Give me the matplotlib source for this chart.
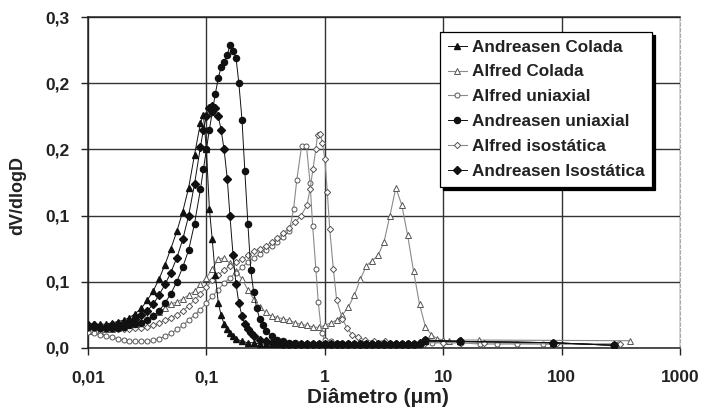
import matplotlib
matplotlib.use("Agg")
import matplotlib.pyplot as plt
from matplotlib.ticker import FixedLocator, FixedFormatter, NullLocator

plt.rcParams['font.family'] = ['Liberation Sans', 'DejaVu Sans']

# ---------------- data ----------------
series_names = ["Andreasen Colada", "Alfred Colada", "Alfred uniaxial",
                "Andreasen uniaxial", "Alfred isostática", "Andreasen Isostática"]

tail_x = [0.501, 0.562, 0.631, 0.708, 0.794, 0.891, 1.00, 1.12, 1.26, 1.41, 1.58, 1.78,
          2.00, 2.24, 2.51, 2.82, 3.16, 3.55, 3.98, 4.47, 5.01, 5.62, 6.31, 7.08, 13.8, 85.0, 275.0]

and_colada_x = [0.0100, 0.0112, 0.0126, 0.0141, 0.0158, 0.0178, 0.0200, 0.0224, 0.0251, 0.0282,
                0.0316, 0.0355, 0.0398, 0.0447, 0.0501, 0.0562, 0.0631, 0.0708, 0.0794, 0.0891,
                0.0944, 0.100, 0.106, 0.112, 0.119, 0.126, 0.133, 0.141, 0.150, 0.158, 0.168,
                0.178, 0.200, 0.224, 0.251, 0.282, 0.316, 0.355, 0.398, 0.447] + tail_x
and_colada_y = [0.018, 0.018, 0.018, 0.018, 0.019, 0.020, 0.021, 0.023, 0.026, 0.030,
                0.036, 0.043, 0.052, 0.063, 0.075, 0.088, 0.103, 0.121, 0.146, 0.170,
                0.176, 0.150, 0.105, 0.082, 0.055, 0.034, 0.025, 0.018, 0.014, 0.011, 0.009,
                0.007, 0.005, 0.004, 0.004, 0.003, 0.003, 0.003, 0.003, 0.003,
                0.003, 0.003, 0.003, 0.003, 0.003, 0.003, 0.003, 0.003, 0.003, 0.003, 0.003, 0.003,
                0.003, 0.003, 0.003, 0.003, 0.003, 0.003, 0.003, 0.003, 0.003, 0.003, 0.004, 0.005,
                0.005, 0.004, 0.002]

and_uni_x = [0.0100, 0.0112, 0.0126, 0.0141, 0.0158, 0.0178, 0.0200, 0.0224, 0.0251, 0.0282,
             0.0316, 0.0355, 0.0398, 0.0447, 0.0501, 0.0562, 0.0631, 0.0708, 0.0794, 0.0891,
             0.0944, 0.100, 0.106, 0.112, 0.119, 0.126, 0.133, 0.141, 0.150, 0.158, 0.168,
             0.178, 0.188, 0.200, 0.211, 0.224, 0.237, 0.251, 0.266, 0.282, 0.299, 0.316,
             0.355, 0.398, 0.447] + tail_x
and_uni_y = [0.016, 0.016, 0.015, 0.015, 0.015, 0.015, 0.016, 0.017, 0.018, 0.019,
             0.021, 0.024, 0.028, 0.034, 0.041, 0.050, 0.061, 0.074, 0.094, 0.120,
             0.135, 0.150, 0.165, 0.178, 0.192, 0.204, 0.212, 0.216, 0.221, 0.229, 0.224,
             0.219, 0.200, 0.172, 0.134, 0.094, 0.059, 0.042, 0.030, 0.022, 0.017, 0.013,
             0.009, 0.006, 0.005,
             0.004, 0.004, 0.003, 0.003, 0.003, 0.003, 0.003, 0.003, 0.003, 0.003, 0.003, 0.003,
             0.003, 0.003, 0.003, 0.003, 0.003, 0.003, 0.003, 0.003, 0.003, 0.003, 0.003, 0.006,
             0.005, 0.004, 0.002]

and_iso_x = [0.0100, 0.0112, 0.0126, 0.0141, 0.0158, 0.0178, 0.0200, 0.0224, 0.0251, 0.0282,
             0.0316, 0.0355, 0.0398, 0.0447, 0.0501, 0.0562, 0.0631, 0.0708, 0.0794, 0.0891,
             0.0944, 0.100, 0.106, 0.112, 0.119, 0.126, 0.133, 0.141, 0.150, 0.158, 0.168,
             0.178, 0.188, 0.200, 0.211, 0.224, 0.237, 0.251, 0.282, 0.316, 0.355, 0.398,
             0.447] + tail_x
and_iso_y = [0.017, 0.017, 0.016, 0.016, 0.017, 0.018, 0.019, 0.020, 0.022, 0.025,
             0.028, 0.033, 0.040, 0.048, 0.057, 0.068, 0.082, 0.100, 0.124, 0.152,
             0.165, 0.175, 0.181, 0.183, 0.181, 0.175, 0.165, 0.150, 0.128, 0.100, 0.070,
             0.048, 0.034, 0.024, 0.018, 0.014, 0.011, 0.009, 0.006, 0.005, 0.004, 0.004,
             0.003,
             0.003, 0.003, 0.003, 0.003, 0.003, 0.003, 0.003, 0.003, 0.003, 0.003, 0.003, 0.003,
             0.003, 0.003, 0.003, 0.003, 0.003, 0.003, 0.003, 0.003, 0.003, 0.003, 0.004, 0.006,
             0.005, 0.004, 0.002]

alf_colada_x = [0.0100, 0.0112, 0.0126, 0.0141, 0.0158, 0.0178, 0.0200, 0.0224, 0.0251, 0.0282,
                0.0316, 0.0355, 0.0398, 0.0447, 0.0501, 0.0562, 0.0631, 0.0708, 0.0794, 0.0891,
                0.100, 0.112, 0.126, 0.141, 0.158, 0.178, 0.200, 0.224, 0.251, 0.282, 0.316,
                0.355, 0.398, 0.447, 0.501, 0.562, 0.631, 0.708, 0.794, 0.891, 1.00, 1.12, 1.26,
                1.41, 1.58, 1.78, 2.00, 2.24, 2.51, 2.82, 3.16, 3.55, 3.98, 4.47, 5.01, 5.62,
                6.31, 7.08, 7.94, 8.91, 10.0, 11.2, 14.0, 20.0, 380.0]
alf_colada_y = [0.013, 0.013, 0.013, 0.014, 0.014, 0.015, 0.016, 0.017, 0.018, 0.020,
                0.022, 0.025, 0.027, 0.030, 0.033, 0.035, 0.037, 0.040, 0.043, 0.048,
                0.053, 0.060, 0.067, 0.068, 0.064, 0.058, 0.052, 0.044, 0.037, 0.031, 0.027,
                0.024, 0.023, 0.022, 0.021, 0.019, 0.018, 0.017, 0.016, 0.0155, 0.017, 0.019, 0.021,
                0.025, 0.031, 0.040, 0.052, 0.062, 0.066, 0.070, 0.080, 0.100, 0.121, 0.108, 0.085, 0.058,
                0.033, 0.016, 0.010, 0.007, 0.006, 0.005, 0.006, 0.006, 0.0055]

alf_uni_x = [0.0100, 0.0112, 0.0126, 0.0141, 0.0158, 0.0178, 0.0200, 0.0224, 0.0251, 0.0282,
             0.0316, 0.0355, 0.0398, 0.0447, 0.0501, 0.0562, 0.0631, 0.0708, 0.0794, 0.0891,
             0.100, 0.112, 0.126, 0.141, 0.158, 0.178, 0.200, 0.224, 0.251, 0.282, 0.316,
             0.355, 0.398, 0.447, 0.501, 0.545, 0.580, 0.637, 0.700, 0.750, 0.790, 0.840,
             0.880, 0.940, 1.00, 1.12, 1.26, 1.58, 2.00, 3.00, 5.00, 8.00, 13.8, 20.4, 28.3,
             41.6, 69.6, 300.0]
alf_uni_y = [0.012, 0.011, 0.010, 0.009, 0.008, 0.007, 0.006, 0.005, 0.005, 0.005,
             0.005, 0.006, 0.007, 0.009, 0.011, 0.014, 0.017, 0.021, 0.025, 0.029,
             0.034, 0.039, 0.044, 0.049, 0.053, 0.057, 0.061, 0.065, 0.068, 0.071, 0.074,
             0.077, 0.080, 0.084, 0.088, 0.105, 0.127, 0.1526, 0.1526, 0.125, 0.092, 0.060,
             0.035, 0.011, 0.006, 0.005, 0.004, 0.004, 0.004, 0.004, 0.004, 0.004, 0.004, 0.003, 0.003,
             0.003, 0.003, 0.003]

alf_iso_x = [0.0100, 0.0112, 0.0126, 0.0141, 0.0158, 0.0178, 0.0200, 0.0224, 0.0251, 0.0282,
             0.0316, 0.0355, 0.0398, 0.0447, 0.0501, 0.0562, 0.0631, 0.0708, 0.0794, 0.0891,
             0.100, 0.112, 0.126, 0.141, 0.158, 0.178, 0.200, 0.224, 0.251, 0.282, 0.316,
             0.355, 0.398, 0.447, 0.501, 0.562, 0.631, 0.708, 0.750, 0.794, 0.840, 0.868,
             0.910, 0.955, 1.00, 1.05, 1.10, 1.18, 1.26, 1.41, 1.54, 1.70, 1.90, 2.20, 2.60,
             3.20, 4.00, 5.00, 7.00, 10.0, 14.0, 22.0, 90.0, 310.0]
alf_iso_y = [0.015, 0.015, 0.014, 0.014, 0.014, 0.014, 0.014, 0.014, 0.015, 0.015,
             0.016, 0.017, 0.019, 0.021, 0.023, 0.025, 0.028, 0.032, 0.036, 0.041,
             0.046, 0.051, 0.055, 0.059, 0.062, 0.065, 0.067, 0.070, 0.073, 0.075, 0.077,
             0.080, 0.083, 0.087, 0.091, 0.095, 0.100, 0.108, 0.120, 0.135, 0.150, 0.161,
             0.162, 0.155, 0.143, 0.118, 0.090, 0.060, 0.036, 0.022, 0.015, 0.010, 0.008, 0.006, 0.005,
             0.005, 0.004, 0.004, 0.004, 0.004, 0.004, 0.004, 0.003, 0.003]

x_ticks = [0.01, 0.1, 1, 10, 100, 1000]
x_ticklabels = ["0,01", "0,1", "1", "10", "100", "1000"]
y_ticks = [0.0, 0.05, 0.10, 0.15, 0.20, 0.25]
y_ticklabels = ["0,0", "0,1", "0,1", "0,2", "0,2", "0,3"]

# ---------------- figure ----------------
fig = plt.figure(figsize=(7.05, 4.08), dpi=100)
ax = fig.add_axes([88/705, 1 - 348/408, (680-88)/705, (348-17)/408])

black = "#111111"
grey = "#8a8a8a"

ax.plot(and_colada_x, and_colada_y, color=black, lw=0.7, marker="^", ms=4.2,
        mfc=black, mec=black, label=series_names[0], zorder=5)
ax.plot(alf_colada_x, alf_colada_y, color=grey, lw=0.8, marker="^", ms=4.0,
        mfc="white", mec="#555555", mew=0.7, label=series_names[1], zorder=4)
ax.plot(alf_uni_x, alf_uni_y, color=grey, lw=0.8, marker="o", ms=3.6,
        mfc="white", mec="#555555", mew=0.7, label=series_names[2], zorder=4)
ax.plot(and_uni_x, and_uni_y, color=black, lw=0.7, marker="o", ms=4.4,
        mfc=black, mec=black, label=series_names[3], zorder=5)
ax.plot(alf_iso_x, alf_iso_y, color=grey, lw=0.8, marker="D", ms=3.2,
        mfc="white", mec="#555555", mew=0.7, label=series_names[4], zorder=4)
ax.plot(and_iso_x, and_iso_y, color=black, lw=0.7, marker="D", ms=3.8,
        mfc=black, mec=black, label=series_names[5], zorder=5)

ax.set_xscale("log")
ax.set_xlim(0.01, 1000)
ax.set_ylim(0, 0.25)
ax.xaxis.set_major_locator(FixedLocator(x_ticks))
ax.xaxis.set_major_formatter(FixedFormatter(x_ticklabels))
ax.xaxis.set_minor_locator(NullLocator())
ax.yaxis.set_major_locator(FixedLocator(y_ticks))
ax.yaxis.set_major_formatter(FixedFormatter(y_ticklabels))

ax.grid(True, color="#333333", lw=1.0)
ax.set_axisbelow(True)
ax.tick_params(axis="both", direction="out", length=5, width=1.0, color="#222222",
               labelsize=12.5)
ax.tick_params(axis="y", pad=8)
ax.tick_params(axis="x", pad=11)
for lbl in ax.get_xticklabels() + ax.get_yticklabels():
    lbl.set_fontweight("bold")
    lbl.set_color("#222222")

for side in ["left", "bottom", "top"]:
    ax.spines[side].set_color("#222222")
    ax.spines[side].set_linewidth(1.1)
ax.spines["right"].set_color("#aaaaaa")
ax.spines["right"].set_linewidth(0.8)
ax.spines["right"].set_linestyle((0, (3, 2)))

ax.set_xlabel("Diâmetro (μm)", fontsize=15, fontweight="bold", color="#222222")
ax.set_ylabel("dV/dlogD", fontsize=13, fontweight="bold", color="#222222")
ax.xaxis.set_label_coords(0.49, -0.151)
ax.yaxis.set_label_coords(-0.118, 0.462)
ax.xaxis.label.set_va("center")
ax.yaxis.label.set_va("center")

leg = ax.legend(loc="upper left", bbox_to_anchor=(0.595, 0.955), frameon=True,
                fancybox=False, shadow={"color": "black", "alpha": 1.0},
                edgecolor="black", framealpha=1.0, handlelength=1.1, handletextpad=0.3,
                labelspacing=0.58, borderpad=0.45, borderaxespad=0,
                prop={"size": 12.3, "weight": "bold"})
leg.get_frame().set_linewidth(0.9)
for t in leg.get_texts():
    t.set_color("#222222")
leg.set_zorder(10)

fig.savefig("out.png", dpi=100)
